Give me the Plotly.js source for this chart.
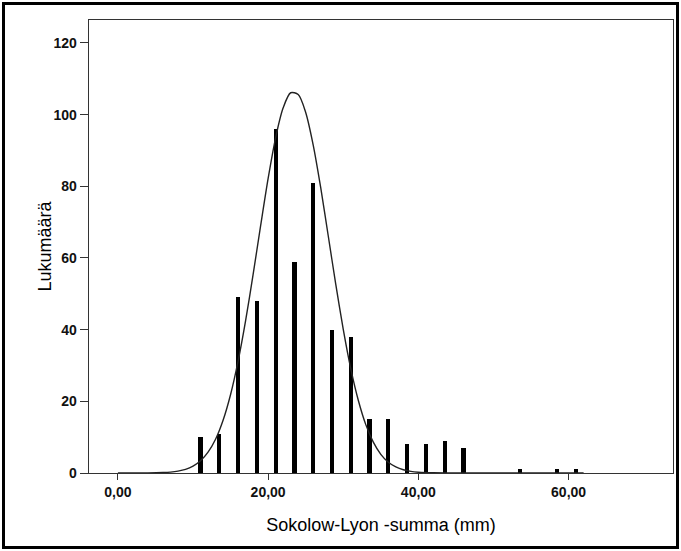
<!DOCTYPE html>
<html>
<head>
<meta charset="utf-8">
<script src="https://cdn.plot.ly/plotly-3.0.1.min.js"></script>
<style>
  html, body { margin: 0; padding: 0; background: #fff; }
  #wrap { position: relative; width: 681px; height: 551px; }
  #chart { width: 681px; height: 551px; }
  #border { position: absolute; left: 2px; top: 2px; width: 677px; height: 547px;
            box-sizing: border-box; border: 3px solid #000; pointer-events: none; }
</style>
</head>
<body>
<div id="wrap"><div id="chart"></div><div id="border"></div></div>
<script>
// Bar centres (mm) and counts
const binCenters = [11.0, 13.5, 16.0, 18.5, 21.0, 23.5, 26.0, 28.5, 31.0, 33.5, 36.0, 38.5, 41.0, 43.5, 46.0, 53.5, 58.5, 61.0];
const counts     = [10, 11, 49, 48, 96, 59, 81, 40, 38, 15, 15, 8, 8, 9, 7, 1, 1, 1];

// Normal curve points
const curveX = [0, 4, 6, 7, 8, 9, 10, 11, 12, 13, 14, 15, 16, 17, 18, 19, 20, 21, 22, 23, 24, 25, 26, 27, 28, 29, 30, 31, 32, 33, 34, 35, 36, 37, 38, 39, 40, 42, 45, 50, 62];
const curveY = [0, 0.02, 0.12, 0.25, 0.52, 1.0, 1.9, 3.4, 5.8, 9.4, 14.7, 21.9, 31.2, 42.5, 55.4, 69.0, 82.2, 93.6, 101.9, 106.1, 105.6, 100.6, 91.5, 79.6, 66.2, 52.7, 40.1, 29.1, 20.3, 13.5, 8.6, 5.2, 3.0, 1.7, 0.9, 0.45, 0.22, 0.05, 0, 0, 0];

const xTickVals = [0, 20, 40, 60];
const xTickText = ['0,00', '20,00', '40,00', '60,00'];
const yTickVals = [0, 20, 40, 60, 80, 100, 120];

const tickFont = { family: 'Liberation Sans, Arial, sans-serif', size: 14, color: '#111', weight: 'bold' };
const titleFont = { family: 'Liberation Sans, Arial, sans-serif', size: 18, color: '#000' };

const data = [
  {
    type: 'bar',
    x: binCenters,
    y: counts,
    width: 0.57,
    marker: { color: '#000', line: { width: 0 } },
    hoverinfo: 'x+y',
    showlegend: false
  },
  {
    type: 'scatter',
    mode: 'lines',
    x: curveX,
    y: curveY,
    line: { color: '#222', width: 1.4, shape: 'spline', smoothing: 0.8 },
    showlegend: false
  }
];

const layout = {
  width: 681,
  height: 551,
  margin: { l: 89, r: 8, t: 20, b: 78 },
  paper_bgcolor: '#fff',
  plot_bgcolor: '#fff',
  separators: ', ',
  xaxis: {
    range: [-3.85, 73.9],
    tickvals: xTickVals,
    ticktext: xTickText,
    ticks: 'outside',
    ticklen: 6,
    tickwidth: 1,
    tickcolor: '#333',
    showgrid: false,
    zeroline: false,
    showline: true,
    linecolor: '#333',
    linewidth: 1.3,
    mirror: true,
    tickfont: tickFont,
    title: { text: 'Sokolow-Lyon -summa (mm)', font: titleFont, standoff: 19 }
  },
  yaxis: {
    range: [0, 126.4],
    tickvals: yTickVals,
    ticks: 'outside',
    ticklen: 8,
    tickwidth: 1,
    tickcolor: '#333',
    showgrid: false,
    zeroline: false,
    showline: true,
    linecolor: '#333',
    linewidth: 1.3,
    mirror: true,
    tickfont: tickFont,
    title: { text: '' }
  },
  annotations: [
    {
      text: 'Lukumäärä',
      xref: 'paper', yref: 'paper',
      x: -0.077, y: 0.5,
      xanchor: 'center', yanchor: 'middle',
      textangle: -90,
      showarrow: false,
      font: titleFont
    }
  ],
  bargap: 0
};

Plotly.newPlot('chart', data, layout, { displayModeBar: false, staticPlot: true });
</script>
</body>
</html>
